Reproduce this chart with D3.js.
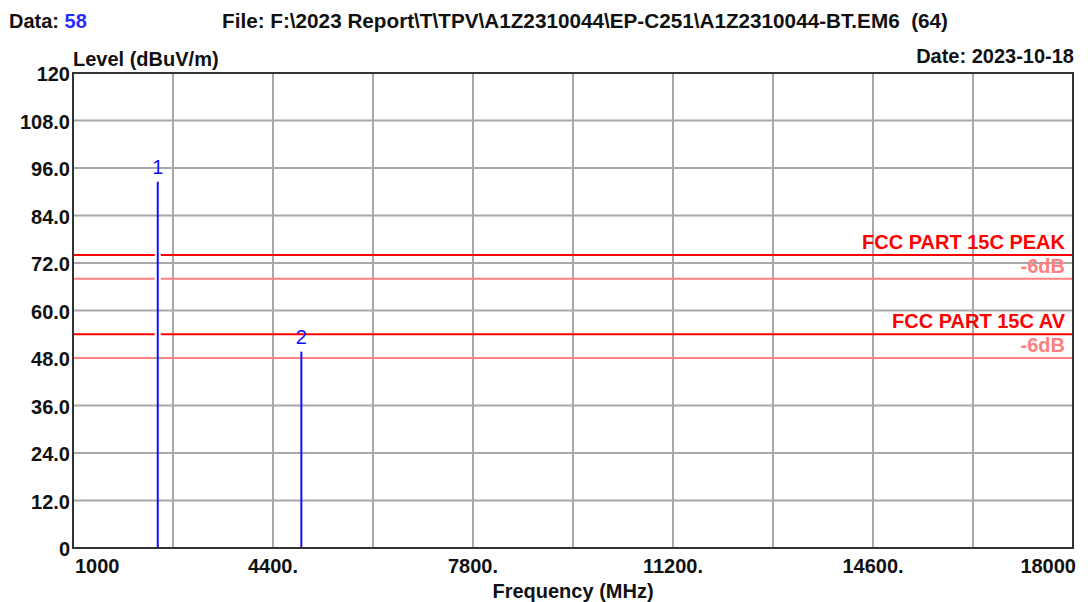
<!DOCTYPE html>
<html><head><meta charset="utf-8">
<script src="https://cdn.jsdelivr.net/npm/d3@7"></script>
<style>
html,body{margin:0;padding:0;background:#fff;}
svg{display:block;font-family:"Liberation Sans",Arial,sans-serif;}
text{white-space:pre;}
</style></head>
<body><svg id="c" width="1091" height="602"></svg>
<script>
// ---- data ----
const headerDataCount = "58";
const headerFile = "File: F:\\2023 Report\\T\\TPV\\A1Z2310044\\EP-C251\\A1Z2310044-BT.EM6  (64)";
const headerDate = "Date: 2023-10-18";
const yTitle = "Level (dBuV/m)";
const xTitle = "Frequency (MHz)";
const yTicks = [0, 12, 24, 36, 48, 60, 72, 84, 96, 108, 120];
const yTickLabels = ["0", "12.0", "24.0", "36.0", "48.0", "60.0", "72.0", "84.0", "96.0", "108.0", "120"];
const xTicks = [1000, 4400, 7800, 11200, 14600, 18000];
const xTickLabels = ["1000", "4400.", "7800.", "11200.", "14600.", "18000"];
const xGrid = [2700, 4400, 6100, 7800, 9500, 11200, 12900, 14600, 16300];
const markerFreq = [2441, 4882];
const markerLevel = [92.5, 49.6];
const markerLabels = ["1", "2"];
const limitNames = ["FCC PART 15C PEAK", "FCC PART 15C AV"];
const limitLevels = [74, 54];
const limitMargin = 6;
const marginLabel = "-6dB";

// ---- layout ----
const svg = d3.select("#c");
const L = 73, R = 1073, T = 73, B = 548;
const x = d3.scaleLinear().domain([1000, 18000]).range([L, R]);
const y = d3.scaleLinear().domain([0, 120]).range([B, T]);
const RED = "#ff0000", PINK = "#ff8080", BLUE = "#1010ff", GRID = "#a8a8a8";

// grid
svg.append("g").selectAll("line").data(yTicks.slice(1, -1)).join("line")
  .attr("x1", L).attr("x2", R).attr("y1", d => y(d)).attr("y2", d => y(d))
  .attr("stroke", GRID).attr("stroke-width", 2);
svg.append("g").selectAll("line").data(xGrid).join("line")
  .attr("y1", T).attr("y2", B).attr("x1", d => x(d)).attr("x2", d => x(d))
  .attr("stroke", GRID).attr("stroke-width", 2);

// limit lines (with small gap at marker 1)
const gapX = x(markerFreq[0]);
const limitLines = [];
limitLevels.forEach((lv, i) => {
  limitLines.push({v: lv, c: RED, w: 2});
  limitLines.push({v: lv - limitMargin, c: PINK, w: 2});
});
const lg = svg.append("g");
limitLines.forEach(d => {
  [[L, gapX - 3], [gapX + 3, R]].forEach(seg => {
    lg.append("line").attr("x1", seg[0]).attr("x2", seg[1])
      .attr("y1", y(d.v)).attr("y2", y(d.v))
      .attr("stroke", d.c).attr("stroke-width", d.w);
  });
});
limitLevels.forEach((lv, i) => {
  svg.append("text").attr("x", 1065).attr("y", y(lv) - 6).attr("text-anchor", "end")
    .attr("font-size", 20).attr("font-weight", "bold").attr("fill", RED).text(limitNames[i]);
  svg.append("text").attr("x", 1065).attr("y", y(lv - limitMargin) - 6).attr("text-anchor", "end")
    .attr("font-size", 20).attr("font-weight", "bold").attr("fill", PINK).text(marginLabel);
});

// markers
const mg = svg.append("g");
markerFreq.forEach((f, i) => {
  mg.append("line").attr("x1", x(f)).attr("x2", x(f)).attr("y1", y(markerLevel[i])).attr("y2", B)
    .attr("stroke", BLUE).attr("stroke-width", 2);
  mg.append("text").attr("x", x(f)).attr("y", y(markerLevel[i]) - 8).attr("text-anchor", "middle")
    .attr("font-size", 20).attr("fill", BLUE).text(markerLabels[i]);
});

// frame
svg.append("rect").attr("x", L).attr("y", T).attr("width", R - L).attr("height", B - T)
  .attr("fill", "none").attr("stroke", "#333").attr("stroke-width", 2);

// axis labels
const yl = svg.append("g").attr("font-size", 20).attr("font-weight", "bold").attr("fill", "#111");
yTicks.forEach((t, i) => {
  yl.append("text").attr("x", 70).attr("y", y(t) + 8).attr("text-anchor", "end").text(yTickLabels[i]);
});
xTicks.forEach((t, i) => {
  const anchor = i === 0 ? "start" : (i === xTicks.length - 1 ? "end" : "middle");
  const dx = i === 0 ? 2 : (i === xTicks.length - 1 ? 3 : 0);
  yl.append("text").attr("x", x(t) + dx).attr("y", 573).attr("text-anchor", anchor).text(xTickLabels[i]);
});
yl.append("text").attr("x", 573).attr("y", 598).attr("text-anchor", "middle").text(xTitle);
yl.append("text").attr("x", 73).attr("y", 66).text(yTitle);

// header
const hd = svg.append("text").attr("x", 9).attr("y", 28).attr("font-size", 20).attr("font-weight", "bold").attr("fill", "#111");
hd.append("tspan").text("Data: ");
hd.append("tspan").attr("fill", "#2a2aff").text(headerDataCount);
svg.append("text").attr("x", 222).attr("y", 28).attr("font-size", 20).attr("font-weight", "bold").attr("fill", "#111")
  .attr("textLength", 726).attr("lengthAdjust", "spacingAndGlyphs").text(headerFile);
svg.append("text").attr("x", 1074).attr("y", 63).attr("text-anchor", "end").attr("font-size", 20).attr("font-weight", "bold").attr("fill", "#111").text(headerDate);
</script></body></html>
